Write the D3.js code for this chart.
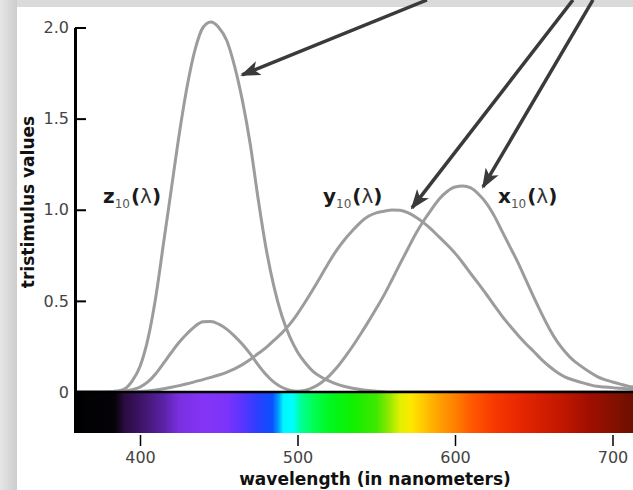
<!DOCTYPE html>
<html>
<head>
<meta charset="utf-8">
<script src="https://cdn.jsdelivr.net/npm/d3@7"></script>
<style>
  body { margin: 0; }
  svg { display: block; }
</style>
</head>
<body>
<script>
// CIE 1964 10-degree colour matching functions

var wavelengths = [360, 365, 370, 375, 380, 385, 390, 395, 400, 405, 410, 415, 420, 425, 430, 435, 440, 445, 450, 455,
    460, 465, 470, 475, 480, 485, 490, 495, 500, 505, 510, 515, 520, 525, 530, 535, 540, 545, 550, 555,
    560, 565, 570, 575, 580, 585, 590, 595, 600, 605, 610, 615, 620, 625, 630, 635, 640, 645, 650, 655,
    660, 665, 670, 675, 680, 685, 690, 695, 700, 705, 710, 715, 720];

var zBar = [0, 0, 0, 0, 0.001, 0.005, 0.016, 0.06, 0.14, 0.29, 0.52, 0.82, 1.12, 1.42, 1.68, 1.88, 2.0, 2.03, 2.0, 1.93,
    1.79, 1.6, 1.36, 1.06, 0.79, 0.58, 0.42, 0.305, 0.22, 0.159, 0.112, 0.082, 0.061, 0.043, 0.03, 0.021, 0.014, 0.008, 0.004, 0.001,
    0, 0, 0, 0, 0, 0, 0, 0, 0, 0, 0, 0, 0, 0, 0, 0, 0, 0, 0, 0,
    0, 0, 0, 0, 0, 0, 0, 0, 0, 0, 0, 0, 0];

var yBar = [0, 0, 0, 0, 0, 0.0001, 0.0003, 0.0008, 0.0025, 0.006, 0.011, 0.018, 0.026, 0.035, 0.045, 0.057, 0.068, 0.08, 0.093, 0.108,
    0.127, 0.15, 0.178, 0.211, 0.243, 0.283, 0.323, 0.371, 0.429, 0.495, 0.565, 0.638, 0.712, 0.78, 0.837, 0.886, 0.931, 0.964, 0.983, 0.992,
    0.999, 0.997, 0.984, 0.96, 0.929, 0.892, 0.85, 0.808, 0.762, 0.708, 0.65, 0.593, 0.535, 0.474, 0.415, 0.362, 0.312, 0.265, 0.222, 0.178,
    0.14, 0.107, 0.082, 0.066, 0.053, 0.041, 0.031, 0.027, 0.024, 0.02, 0.017, 0.015, 0.013];

var xBar = [0, 0, 0, 0.0001, 0.0003, 0.0015, 0.0045, 0.0125, 0.027, 0.055, 0.1, 0.158, 0.218, 0.274, 0.321, 0.361, 0.385, 0.387, 0.372, 0.345,
    0.307, 0.262, 0.209, 0.149, 0.096, 0.054, 0.026, 0.01, 0.0045, 0.0094, 0.025, 0.051, 0.087, 0.134, 0.19, 0.251, 0.317, 0.386, 0.458, 0.533,
    0.616, 0.702, 0.785, 0.867, 0.938, 1.001, 1.059, 1.1, 1.125, 1.13, 1.12, 1.085, 1.035, 0.965, 0.88, 0.795, 0.71, 0.615, 0.52, 0.43,
    0.346, 0.275, 0.22, 0.175, 0.142, 0.112, 0.086, 0.068, 0.055, 0.043, 0.032, 0.024, 0.018];

var yTicks = [0, 0.5, 1.0, 1.5, 2.0];
var xTicks = [400, 500, 600, 700];

// colours of the spectrum strip under the axis
var spectrumNm = [358, 384, 390, 400, 415, 425, 440, 455, 465, 475, 484, 488, 491, 497, 502, 510, 520, 535, 550, 558,
    565, 572, 580, 590, 600, 610, 625, 640, 655, 670, 685, 700, 715];
var spectrumColors = ["#000000", "#050208", "#2a0c40", "#3c1464", "#5a22a6", "#7a30e0", "#8434f6", "#7c34fa", "#5a34ff", "#2a40ff",
    "#0a50ff", "#00a0ff", "#00f8ff", "#00ffff", "#00ff99", "#00ff55", "#00f820", "#10f000", "#40e800", "#90e800",
    "#e0f000", "#ffe800", "#ffc800", "#ffa000", "#ff8000", "#ff5a00", "#f83800", "#e82800", "#d41e00", "#be1600",
    "#a00e00", "#861000", "#661000"];

// curve labels and arrows (in wavelength / value units)
var labelNames = ["z", "y", "x"];
var labelNm = [376.5, 516.2, 627.3];
var labelVal = [1.037, 1.037, 1.037];

var arrowFromNm = [582.2, 674.9, 687.6];
var arrowFromVal = [2.151, 2.151, 2.151];
var arrowToNm = [464.8, 572.7, 617.8];
var arrowToVal = [1.74, 1.01, 1.125];

//Set size of chart

var svgwidth = 633;
var svgheight = 490;

var svg = d3.select("body")
            .append("svg")
            .attr("width", svgwidth)
            .attr("height", svgheight);

var defs = svg.append("defs");

//Scales

var xScale = d3.scaleLinear()
        .domain([400, 700])
        .range([140, 612.5]);

var yScale = d3.scaleLinear()
        .domain([0, 2])
        .range([392, 27.5]);

//Background: grey frame on the left and top, white page

var edge = defs.append("linearGradient")
        .attr("id", "edge")
        .attr("x1", 0).attr("x2", 1).attr("y1", 0).attr("y2", 0);
edge.append("stop").attr("offset", "0%").attr("stop-color", "#e6e6e6");
edge.append("stop").attr("offset", "100%").attr("stop-color", "#cdcdcd");

svg.append("rect")
    .attr("width", svgwidth)
    .attr("height", svgheight)
    .attr("fill", "#dadada");

svg.append("rect")
    .attr("width", 17)
    .attr("height", svgheight)
    .attr("fill", "url(#edge)");

svg.append("rect")
    .attr("x", 17)
    .attr("y", 7)
    .attr("width", svgwidth - 17)
    .attr("height", svgheight - 7)
    .attr("fill", "#ffffff");

//Curves

var line = d3.line()
        .x((d, i) => xScale(wavelengths[i]))
        .y(d => yScale(d))
        .curve(d3.curveMonotoneX);

[zBar, yBar, xBar].forEach(function(series) {
    svg.append("path")
        .attr("d", line(series))
        .attr("fill", "none")
        .attr("stroke", "#9c9c9c")
        .attr("stroke-width", 3);
});

//Spectrum strip

var spectrum = defs.append("linearGradient")
        .attr("id", "spectrum")
        .attr("gradientUnits", "userSpaceOnUse")
        .attr("x1", xScale(spectrumNm[0]))
        .attr("x2", xScale(spectrumNm[spectrumNm.length - 1]))
        .attr("y1", 0).attr("y2", 0);

var nmToOffset = d3.scaleLinear()
        .domain([spectrumNm[0], spectrumNm[spectrumNm.length - 1]])
        .range([0, 1]);

spectrum.selectAll("stop")
    .data(spectrumNm)
    .enter()
    .append("stop")
    .attr("offset", d => nmToOffset(d))
    .attr("stop-color", (d, i) => spectrumColors[i]);

svg.append("rect")
    .attr("x", 74)
    .attr("y", yScale(0))
    .attr("width", svgwidth - 74)
    .attr("height", 41)
    .attr("fill", "url(#spectrum)");

svg.append("line")
    .attr("x1", 74)
    .attr("x2", svgwidth)
    .attr("y1", yScale(0))
    .attr("y2", yScale(0))
    .attr("stroke", "#000")
    .attr("stroke-width", 2.5);

//Axes

var leftAxis = d3.axisLeft(yScale)
        .tickValues(yTicks)
        .tickSizeInner(-11)
        .tickSizeOuter(0)
        .tickPadding(6)
        .tickFormat(d => d === 0 ? "0" : d3.format(".1f")(d));

var yAxisGroup = svg.append("g")
        .attr("transform", "translate(75, 0)")
        .call(leftAxis);

yAxisGroup.select(".domain").attr("stroke", "#000").attr("stroke-width", 3);
yAxisGroup.selectAll(".tick line").attr("stroke", "#000").attr("stroke-width", 2);
yAxisGroup.selectAll(".tick").filter(d => d === 0).select("line").remove();

var bottomAxis = d3.axisBottom(xScale)
        .tickValues(xTicks)
        .tickSize(11)
        .tickPadding(6);

var xAxisGroup = svg.append("g")
        .attr("transform", "translate(0, 435)")
        .call(bottomAxis);

xAxisGroup.select(".domain").remove();
xAxisGroup.selectAll(".tick line").attr("stroke", "#000").attr("stroke-width", 1.5);

svg.selectAll(".tick text")
    .attr("font-family", "DejaVu Sans, Verdana, sans-serif")
    .attr("font-size", 16)
    .attr("fill", "#444");

//Axes labels

svg.append("text")
    .attr("transform", "translate(34, 202) rotate(-90)")
    .attr("text-anchor", "middle")
    .attr("font-family", "DejaVu Sans, Verdana, sans-serif")
    .attr("font-weight", "bold")
    .attr("font-size", 17)
    .attr("fill", "#111")
    .text("tristimulus values");

svg.append("text")
    .attr("x", 375)
    .attr("y", 485)
    .attr("text-anchor", "middle")
    .attr("font-family", "DejaVu Sans, Verdana, sans-serif")
    .attr("font-weight", "bold")
    .attr("font-size", 17)
    .attr("fill", "#111")
    .text("wavelength (in nanometers)");

//Curve labels  x10(λ) etc.

labelNames.forEach(function(name, i) {
    var t = svg.append("text")
        .attr("x", xScale(labelNm[i]))
        .attr("y", yScale(labelVal[i]))
        .attr("font-family", "DejaVu Sans, Verdana, sans-serif")
        .attr("font-size", 20)
        .attr("fill", "#1a1a1a");
    t.append("tspan").attr("font-weight", "bold").text(name);
    t.append("tspan").attr("font-size", 12).attr("dy", 5).attr("fill", "#555").text("10");
    t.append("tspan").attr("font-weight", "bold").attr("dy", -5).attr("dx", 1).text("(");
    t.append("tspan").attr("fill", "#333").text("λ");
    t.append("tspan").attr("font-weight", "bold").text(")");
});

//Arrows

defs.append("marker")
    .attr("id", "head")
    .attr("markerUnits", "userSpaceOnUse")
    .attr("viewBox", "0 -8 20 16")
    .attr("refX", 18)
    .attr("refY", 0)
    .attr("markerWidth", 20)
    .attr("markerHeight", 16)
    .attr("orient", "auto")
    .append("path")
    .attr("d", "M0,-7.5L20,0L0,7.5L5,0Z")
    .attr("fill", "#3a3a3a");

arrowToNm.forEach(function(nm, i) {
    svg.append("line")
        .attr("x1", xScale(arrowFromNm[i]))
        .attr("y1", yScale(arrowFromVal[i]))
        .attr("x2", xScale(nm))
        .attr("y2", yScale(arrowToVal[i]))
        .attr("stroke", "#3a3a3a")
        .attr("stroke-width", 3.5)
        .attr("marker-end", "url(#head)");
});
</script>
</body>
</html>
